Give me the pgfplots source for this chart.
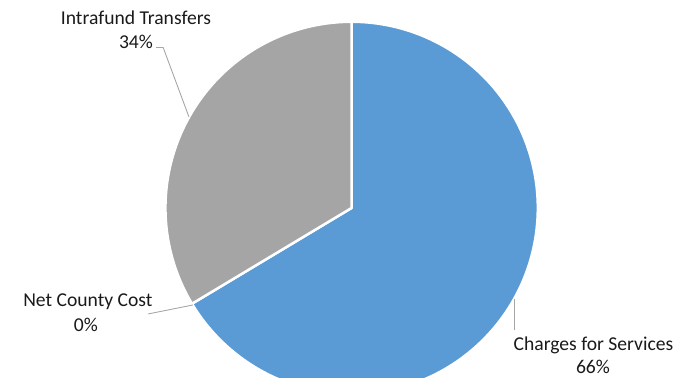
\documentclass[border=0pt]{standalone}
\usepackage{pgfplots}
\pgfplotsset{compat=1.18}
\usepackage{pgfplotstable}
\usepackage{fontspec}
\setmainfont{Carlito}
\definecolor{pieblue}{HTML}{5B9BD5}
\definecolor{piegray}{HTML}{A5A5A5}
\definecolor{leader}{HTML}{A6A6A6}
\definecolor{lbl}{HTML}{1A1A1A}
\tikzset{lab/.style={anchor=base, inner sep=0pt, text=lbl, font=\fontsize{19.8}{24}\selectfont}}
\pgfplotstableread{
label value
Charges 66.4
Intrafund 33.6
NetCounty 0.0
}\piedata
\begin{document}
\pgfplotstablegetelem{0}{value}\of\piedata \let\vA\pgfplotsretval
\pgfplotstablegetelem{1}{value}\of\piedata \let\vB\pgfplotsretval
\pgfmathsetmacro{\aStart}{90}
\pgfmathsetmacro{\aMid}{90-3.6*\vA}
\pgfmathsetmacro{\aEnd}{\aMid-3.6*\vB}
\begin{tikzpicture}
\begin{axis}[hide axis, scale only axis, width=690pt, height=381pt,
  xmin=0, xmax=690, ymin=0, ymax=381, clip=true]
\addplot[fill=pieblue, draw=white, line width=2.5pt, line join=round,
  domain=\aMid:\aStart, samples=240]
  ({348.3+188*cos(x)},{171+188*sin(x)}) -- (axis cs:348.3,171) -- cycle;
\addplot[fill=piegray, draw=white, line width=2.5pt, line join=round,
  domain=\aEnd:\aMid, samples=200]
  ({348.3+188*cos(x)},{171+188*sin(x)}) -- (axis cs:348.3,171) -- cycle;
% leader lines
\draw[leader, line width=0.9pt] (axis cs:151,333) -- (axis cs:158,333) -- (axis cs:184,263);
\draw[leader, line width=0.9pt] (axis cs:143,64) -- (axis cs:188,73);
\draw[leader, line width=0.9pt] (axis cs:513,79) -- (axis cs:513,48);
% labels
\node[lab] at (axis cs:130.5,356) {Intrafund Transfers};
\node[lab] at (axis cs:130.5,332) {34\%};
\node[lab] at (axis cs:82,71) {Net County Cost};
\node[lab] at (axis cs:80,46) {0\%};
\node[lab] at (axis cs:592.5,27) {Charges for Services};
\node[lab] at (axis cs:592,4) {66\%};
\end{axis}
\pgfresetboundingbox
\path[use as bounding box] (current axis.south west) rectangle (current axis.north east);
\end{tikzpicture}
\end{document}
